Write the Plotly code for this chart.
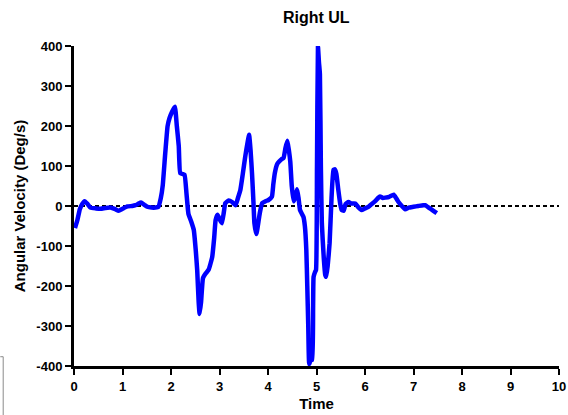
import plotly.graph_objects as go

# Angular velocity trace of the right upper limb
time_s = [0.02, 0.07, 0.12, 0.17, 0.22, 0.28, 0.34, 0.45, 0.55, 0.65, 0.75, 0.85, 0.92, 1.0, 1.1,
          1.2, 1.27, 1.33, 1.38, 1.45, 1.51, 1.6, 1.68, 1.74, 1.79, 1.83, 1.88, 1.93, 1.97, 2.02,
          2.08, 2.12, 2.16, 2.19, 2.24, 2.28, 2.32, 2.36, 2.42, 2.47, 2.51, 2.54, 2.57, 2.59, 2.62,
          2.66, 2.72, 2.78, 2.85, 2.89, 2.92, 2.96, 3.01, 3.05, 3.09, 3.12, 3.19, 3.26, 3.33, 3.38,
          3.43, 3.48, 3.53, 3.58, 3.61, 3.64, 3.67, 3.70, 3.72, 3.76, 3.79, 3.83, 3.88, 3.95, 4.01,
          4.08, 4.11, 4.14, 4.19, 4.23, 4.28, 4.32, 4.36, 4.40, 4.43, 4.46, 4.49, 4.53, 4.57, 4.60,
          4.63, 4.66, 4.70, 4.73, 4.76, 4.79, 4.81, 4.83, 4.85, 4.88, 4.91, 4.93, 4.94, 4.97, 4.99,
          5.01, 5.03, 5.05, 5.07, 5.09, 5.11, 5.15, 5.18, 5.20, 5.23, 5.27, 5.31, 5.35, 5.38, 5.41,
          5.45, 5.49, 5.52, 5.56, 5.60, 5.66, 5.72, 5.80, 5.86, 5.93, 6.0, 6.07, 6.14, 6.21, 6.27,
          6.31, 6.37, 6.42, 6.5, 6.59, 6.64, 6.69, 6.76, 6.83, 6.9, 7.0, 7.1, 7.2, 7.24, 7.3,
          7.34, 7.41, 7.48]
velocity = [-55, -35, -8, 5, 12, 5, -4, -6, -7, -5, -4, -8, -12, -7, -1,
            0, 2, 6, 9, 3, -2, -4, -4, -2, 20, 52, 130, 200, 220, 235,
            248, 200, 150, 82, 80, 78, 30, -20, -40, -60, -110, -160, -240, -270, -240,
            -180, -168, -158, -127, -80, -35, -22, -35, -43, -15, 7, 14, 10, 2, 20,
            40, 80, 123, 160, 178, 140, 82, 10, -43, -70, -50, -18, 7, 12, 15,
            23, 55, 82, 105, 111, 117, 120, 145, 163, 140, 110, 50, 12, 25, 42,
            20, -10, -20, -27, -50, -110, -200, -300, -395, -385, -385, -250, -177, -165, -160,
            100, 398, 360, 330, 100, -43, -130, -172, -177, -150, -93, 20, 90, 92, 80,
            40, 5, -10, -12, 5, 10, 6, 6, -3, -10, -6, -2, 5, 12, 20,
            24, 20, 21, 23, 28, 20, 10, 0, -8, -4, -2, 0, 2, 2, -3,
            -6, -12, -18]

x_ticks = [0, 1, 2, 3, 4, 5, 6, 7, 8, 9, 10]
y_ticks = [-400, -300, -200, -100, 0, 100, 200, 300, 400]
baseline = [0, 0]
baseline_x = [0, 10]

FONT = "Liberation Sans, Arial, Helvetica, sans-serif"

fig = go.Figure()

# dotted zero reference
fig.add_trace(go.Scatter(
    x=baseline_x, y=baseline, mode="lines",
    line=dict(color="black", width=2, dash="4px,3px"),
    hoverinfo="skip", showlegend=False,
))

fig.add_trace(go.Scatter(
    x=time_s, y=velocity, mode="lines",
    line=dict(color="#0000ff", width=4.5, shape="spline", smoothing=0.4),
    showlegend=False,
))

axis_common = dict(
    showline=True, linecolor="black", linewidth=3,
    ticks="outside", ticklen=6, tickwidth=2, tickcolor="black",
    showgrid=False, zeroline=False, automargin=False,
    tickfont=dict(family=FONT, size=13, color="black", weight="bold"),
)

fig.update_xaxes(
    range=[0, 10], tickvals=x_ticks, ticktext=[str(v) for v in x_ticks],
    title=dict(text="Time", font=dict(family=FONT, size=15, color="black", weight="bold"),
               standoff=6),
    **axis_common,
)
fig.update_yaxes(
    range=[-400, 400], tickvals=y_ticks, ticktext=[str(v) for v in y_ticks],
    title=dict(text="Angular Velocity (Deg/s)",
               font=dict(family=FONT, size=15, color="black", weight="bold"),
               standoff=8),
    **axis_common,
)

fig.update_layout(
    width=568, height=415,
    margin=dict(l=74, r=9, t=46, b=49),
    paper_bgcolor="white", plot_bgcolor="white",
    title=dict(text="Right UL", x=0.5567, xanchor="center", y=0.957, yanchor="middle",
               font=dict(family=FONT, size=16, color="black", weight="bold")),
    shapes=[
        dict(type="line", xref="paper", yref="paper", x0=-0.152, x1=-0.146,
             y0=0.029, y1=0.029, line=dict(color="#8a8a8a", width=1)),
        dict(type="line", xref="paper", yref="paper", x0=-0.146, x1=-0.146,
             y0=0.029, y1=-0.16, line=dict(color="#8a8a8a", width=1)),
    ],
)

fig.write_html("out.html")
